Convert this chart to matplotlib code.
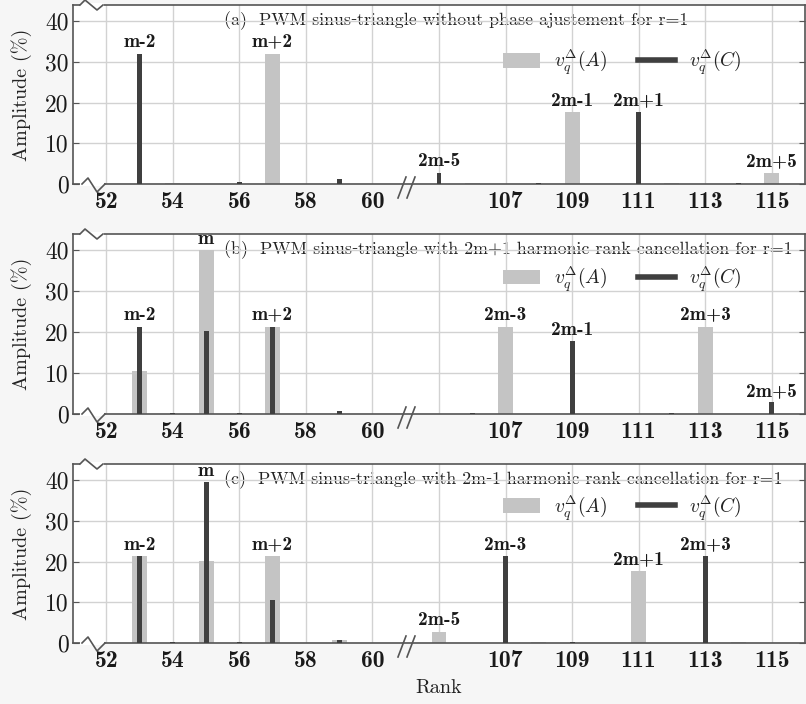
import matplotlib
matplotlib.use("Agg")
import matplotlib.pyplot as plt
from matplotlib.patches import Patch
from matplotlib.lines import Line2D

plt.rcParams['mathtext.fontset'] = 'cm'
plt.rcParams['axes.unicode_minus'] = False

# ---------------- data ----------------
panel_titles = [
    "(a)  PWM sinus\u2010triangle without phase ajustement for r=1",
    "(b)  PWM sinus\u2010triangle with 2m+1 harmonic rank cancellation for r=1",
    "(c)  PWM sinus\u2010triangle with 2m\u20101 harmonic rank cancellation for r=1",
]

# series A (grey, wide bars)
a_ranks = [
    [54, 57, 106, 109, 112, 115],
    [53, 55, 57, 107, 113],
    [53, 55, 57, 59, 105, 108, 111, 114],
]
a_values = [
    [0.3, 32.0, 0.3, 17.7, 0.3, 2.7],
    [10.6, 40.0, 21.3, 21.3, 21.3],
    [21.3, 20.2, 21.3, 0.8, 2.8, 0.3, 17.7, 0.2],
]
# series C (dark, thin bars)
c_ranks = [
    [53, 56, 59, 105, 108, 111, 114],
    [53, 54, 55, 56, 57, 59, 106, 109, 112, 115],
    [53, 54, 55, 56, 57, 59, 107, 109, 110, 113],
]
c_values = [
    [32.0, 0.5, 1.2, 2.8, 0.3, 17.7, 0.3],
    [21.3, 0.3, 20.2, 0.2, 21.3, 0.8, 0.2, 17.8, 0.2, 2.9],
    [21.3, 0.2, 39.5, 0.2, 10.6, 0.7, 21.3, 0.2, 0.1, 21.3],
]
# harmonic annotations (rank, label)
annotations = [
    [(53, "m-2"), (57, "m+2"), (105, "2m-5"), (109, "2m-1"), (111, "2m+1"), (115, "2m+5")],
    [(53, "m-2"), (55, "m"), (57, "m+2"), (107, "2m-3"), (109, "2m-1"), (113, "2m+3"), (115, "2m+5")],
    [(53, "m-2"), (55, "m"), (57, "m+2"), (105, "2m-5"), (107, "2m-3"), (111, "2m+1"), (113, "2m+3")],
]
tick_ranks_left = [52, 54, 56, 58, 60]
tick_ranks_right = [107, 109, 111, 113, 115]
y_ticks = [0, 10, 20, 30, 40]
legend_labels = [r"$v_q^{\Delta}(A)$", r"$v_q^{\Delta}(C)$"]

# ---------------- layout / style ----------------
BREAK_SHIFT = 43           # ranks above the axis break are drawn shifted left by this
def xpos(r):
    return r - BREAK_SHIFT if r > 100 else r

GREY = "#c4c4c4"
DARK = "#3f3f3f"
SPINE = "#555555"
GRID = "#d2d2d2"
BG = "#f6f6f6"

fig = plt.figure(figsize=(8.06, 7.04), dpi=100, facecolor=BG)
W, H = 806, 704
left_px, right_px = 73, 805
panel_px = [(5, 184), (234, 414), (464, 643)]
legend_y = [0.68, 0.75, 0.755]

serif = ['cmr10', 'DejaVu Serif']
bold = ['cmb10', 'DejaVu Serif']

for i in range(3):
    top, bot = panel_px[i]
    ax = fig.add_axes([left_px / W, 1 - bot / H, (right_px - left_px) / W, (bot - top) / H])
    ax.set_facecolor("white")
    ax.set_xlim(51, 73)
    ax.set_ylim(0, 44)

    ax.bar([xpos(r) for r in a_ranks[i]], a_values[i], width=0.45, color=GREY, zorder=2)
    ax.bar([xpos(r) for r in c_ranks[i]], c_values[i], width=0.15, color=DARK, zorder=3)

    # annotations
    for r, lab in annotations[i]:
        h = 0
        if r in a_ranks[i]:
            h = max(h, a_values[i][a_ranks[i].index(r)])
        if r in c_ranks[i]:
            h = max(h, c_values[i][c_ranks[i].index(r)])
        ax.text(xpos(r), h + 0.6, lab, ha='center', va='bottom',
                fontsize=14, family=bold, color="#1a1a1a", zorder=4)

    # ticks
    xt = [xpos(r) for r in tick_ranks_left] + [62] + [xpos(r) for r in tick_ranks_right]
    xl = [str(r) for r in tick_ranks_left] + [""] + [str(r) for r in tick_ranks_right]
    ax.set_xticks(xt)
    ax.set_xticklabels(xl, fontsize=17, family=bold, color="#1a1a1a")
    ax.set_yticks(y_ticks)
    ax.set_yticklabels([str(v) for v in y_ticks], fontsize=17, family=serif, color="#1a1a1a")
    ax.tick_params(axis='x', direction='in', length=0, pad=5)
    ax.tick_params(axis='y', direction='in', length=4, pad=3, color=SPINE, right=True)

    ax.set_axisbelow(True)
    ax.grid(True, color=GRID, linewidth=1.0)
    for s in ax.spines.values():
        s.set_color(SPINE)
        s.set_linewidth(1.2)

    # panel title (behind grid)
    ax.text(51 + 0.206 * 22, 40.2, panel_titles[i],
            fontsize=12.9, family=serif, color="#222222", va='center', ha='left', zorder=0.2)

    ax.set_ylabel("Amplitude (%)", fontsize=14.5, family=serif, color="#222222")
    ax.yaxis.set_label_coords((32 - left_px) / (right_px - left_px), 0.5)

    # legend
    handles = [Patch(facecolor=GREY, edgecolor='none'),
               Line2D([0], [0], color=DARK, linewidth=4)]
    leg = ax.legend(handles, legend_labels, ncol=2, loc='center left',
                    bbox_to_anchor=(0.588, legend_y[i]), frameon=False,
                    fontsize=14, handlelength=1.9, handleheight=0.8,
                    handletextpad=0.7, columnspacing=1.6, borderpad=0, borderaxespad=0)
    for t in leg.get_texts():
        t.set_color("#222222")

    # zigzag break marks on the spines near the left end
    aw = right_px - left_px
    ah = bot - top
    def px(dx, dy):
        return dx / aw, dy / ah
    for yb in (0, 1):
        x0, _ = px(7, 0)
        x1, _ = px(31, 0)
        ax.plot([x0, x1], [yb, yb], transform=ax.transAxes, color="white",
                linewidth=3, clip_on=False, zorder=5, solid_capstyle='butt')
    zx = [7, 12, 24, 30]
    zy = [0, 5, -5, 0]
    ax.plot([px(x, 0)[0] for x in zx], [1 + px(0, y)[1] for y in zy], transform=ax.transAxes,
            color=SPINE, linewidth=1.2, clip_on=False, zorder=6)
    zx = [9, 15, 24, 32]
    zy = [0, 6, -8, 0]
    ax.plot([px(x, 0)[0] for x in zx], [px(0, y)[1] for y in zy], transform=ax.transAxes,
            color=SPINE, linewidth=1.2, clip_on=False, zorder=6)
    for xs in (325, 334):
        ax.plot([px(xs, 0)[0], px(xs + 8, 0)[0]], [px(0, -14)[1], px(0, 7)[1]],
                transform=ax.transAxes, color=SPINE, linewidth=1.2, clip_on=False, zorder=6)

fig.text((left_px + right_px) / 2 / W, 1 - 688 / H, "Rank", fontsize=14.5, family=serif,
         color="#222222", ha='center', va='center')

fig.savefig("out.png", dpi=100, facecolor=BG)
